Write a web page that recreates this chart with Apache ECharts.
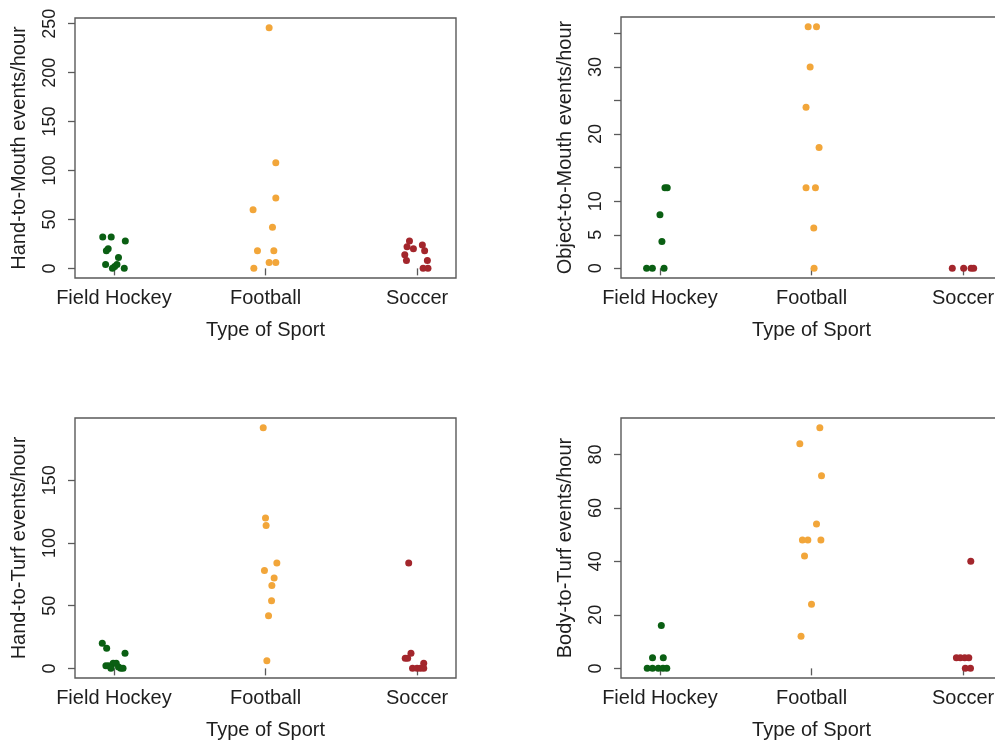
<!DOCTYPE html>
<html>
<head>
<meta charset="utf-8">
<script src="https://cdn.jsdelivr.net/npm/echarts@6/dist/echarts.min.js"></script>
<style>
  html, body { margin: 0; padding: 0; background: #ffffff; }
  #chart { width: 995px; height: 745px; }
</style>
</head>
<body>
<div id="chart"></div>
<script>
// Sports and the axis titles of the four strip charts
const sports = ['Field Hockey', 'Football', 'Soccer'];
const sportColors = ['#0a5f13', '#f2a63a', '#a3262c'];
const xTitle = 'Type of Sport';
const yTitles = [
  'Hand-to-Mouth events/hour',
  'Object-to-Mouth events/hour',
  'Hand-to-Turf events/hour',
  'Body-to-Turf events/hour'
];

// Observations as [jitter, events/hour]; jitter is the horizontal scatter around each sport
const handMouthHockey = [[-0.074, 32], [-0.018, 32], [0.075, 28], [-0.038, 20], [-0.05, 18], [0.03, 11],
  [-0.055, 4], [0.02, 4], [0.005, 2], [-0.01, 0], [0.068, 0]];
const handMouthFootball = [[0.024, 246], [0.068, 108], [0.068, 72], [-0.082, 60], [0.046, 42], [-0.053, 18],
  [0.055, 18], [0.024, 6], [0.068, 6], [-0.077, 0]];
const handMouthSoccer = [[-0.05, 28], [0.035, 24], [-0.066, 22], [-0.024, 20], [0.05, 18], [-0.081, 14],
  [0.068, 8], [-0.07, 8], [0.04, 0], [0.072, 0]];

const objectMouthHockey = [[-0.088, 0], [-0.05, 0], [0.027, 0], [0.033, 12], [0.048, 12], [0, 8], [0.013, 4]];
const objectMouthFootball = [[-0.022, 36], [0.033, 36], [-0.009, 30], [-0.036, 24], [0.05, 18], [-0.036, 12],
  [0.026, 12], [0.015, 6], [0.017, 0]];
const objectMouthSoccer = [[-0.071, 0], [0.004, 0], [0.053, 0], [0.07, 0]];

const handTurfHockey = [[-0.077, 20], [-0.048, 16], [0.073, 12], [-0.053, 2], [-0.035, 2], [-0.02, 1],
  [-0.005, 4], [0.015, 4], [0.03, 1], [0.045, 0], [0.06, 0], [-0.02, 0]];
const handTurfFootball = [[-0.015, 192], [0, 120], [0.004, 114], [0.075, 84], [-0.007, 78], [0.057, 72],
  [0.042, 66], [0.04, 54], [0.02, 42], [0.009, 6]];
const handTurfSoccer = [[-0.055, 84], [-0.04, 12], [-0.078, 8], [-0.062, 8], [0.044, 4], [-0.03, 0],
  [0, 0], [0.022, 0], [0.044, 0]];

const bodyTurfHockey = [[0.009, 16], [-0.049, 4], [0.022, 4], [-0.084, 0], [-0.049, 0], [-0.011, 0],
  [0.02, 0], [0.045, 0]];
const bodyTurfFootball = [[0.055, 90], [-0.077, 84], [0.066, 72], [0.033, 54], [-0.06, 48], [-0.024, 48],
  [0.062, 48], [-0.046, 42], [0, 24], [-0.069, 12]];
const bodyTurfSoccer = [[0.051, 40], [-0.044, 4], [-0.018, 4], [0.011, 4], [0.038, 4], [0.015, 0], [0.049, 0]];

// Tick positions and the tick labels printed on each y axis
const handMouthTicks = [0, 50, 100, 150, 200, 250];
const handMouthLabels = [0, 50, 100, 150, 200, 250];
const objectMouthTicks = [0, 5, 10, 15, 20, 25, 30, 35];
const objectMouthLabels = [0, 5, 10, 20, 30];
const handTurfTicks = [0, 50, 100, 150];
const handTurfLabels = [0, 50, 100, 150];
const bodyTurfTicks = [0, 20, 40, 60, 80];
const bodyTurfLabels = [0, 20, 40, 60, 80];

const panels = [
  { groups: [handMouthHockey, handMouthFootball, handMouthSoccer], ticks: handMouthTicks, labels: handMouthLabels },
  { groups: [objectMouthHockey, objectMouthFootball, objectMouthSoccer], ticks: objectMouthTicks, labels: objectMouthLabels },
  { groups: [handTurfHockey, handTurfFootball, handTurfSoccer], ticks: handTurfTicks, labels: handTurfLabels },
  { groups: [bodyTurfHockey, bodyTurfFootball, bodyTurfSoccer], ticks: bodyTurfTicks, labels: bodyTurfLabels }
];

// Plot regions (px) of the 2x2 layout; the right column runs past the page edge
const gridBoxes = [
  { left: 75, top: 18, width: 381, height: 260 },
  { left: 621, top: 17, width: 381, height: 261 },
  { left: 75, top: 418, width: 381, height: 260 },
  { left: 621, top: 418, width: 381, height: 260 }
];

const FONT = 'Liberation Sans, Arial, Helvetica, sans-serif';
const INK = '#1e1e1e';
const FRAME = '#5a5a5a';

const grids = [], xAxes = [], yAxes = [], series = [];

panels.forEach(function (panel, i) {
  grids.push(Object.assign({
    show: true, borderColor: FRAME, borderWidth: 1.4,
    backgroundColor: 'transparent', containLabel: false, outerBoundsMode: 'none'
  }, gridBoxes[i]));

  // y range padded by 4% of the data span on each side
  let lo = Infinity, hi = -Infinity;
  panel.groups.forEach(function (g) {
    g.forEach(function (p) { lo = Math.min(lo, p[1]); hi = Math.max(hi, p[1]); });
  });
  const pad = (hi - lo) * 0.04;

  xAxes.push({
    type: 'value', gridIndex: i, min: 0.743, max: 3.257,
    splitLine: { show: false },
    axisLine: { show: false },
    axisTick: { show: true, length: 7, customValues: [1, 2, 3], lineStyle: { color: FRAME, width: 1.3 } },
    axisLabel: {
      customValues: [1, 2, 3], margin: 10, fontSize: 20, color: INK, fontFamily: FONT,
      formatter: function (v) { return sports[Math.round(v) - 1]; }
    },
    name: xTitle, nameLocation: 'middle', nameGap: 42,
    nameTextStyle: { fontSize: 20, color: INK, fontFamily: FONT }
  });

  yAxes.push({
    type: 'value', gridIndex: i, min: lo - pad, max: hi + pad,
    splitLine: { show: false },
    axisLine: { show: false },
    axisTick: { show: true, length: 7, customValues: panel.ticks, lineStyle: { color: FRAME, width: 1.3 } },
    axisLabel: {
      customValues: panel.labels, rotate: 90, margin: 16, fontSize: 18, color: INK, fontFamily: FONT,
      formatter: function (v) { return String(Math.round(v)); }
    },
    name: yTitles[i], nameLocation: 'middle', nameRotate: 90, nameGap: 46,
    nameTextStyle: { fontSize: 20, color: INK, fontFamily: FONT }
  });

  panel.groups.forEach(function (g, k) {
    series.push({
      type: 'scatter', xAxisIndex: i, yAxisIndex: i,
      symbol: 'circle', symbolSize: 7,
      itemStyle: { color: sportColors[k], opacity: 1 },
      emphasis: { disabled: true },
      data: g.map(function (p) { return [k + 1 + p[0], p[1]]; })
    });
  });
});

const chart = echarts.init(document.getElementById('chart'), null, { renderer: 'canvas' });
chart.setOption({
  animation: false,
  backgroundColor: '#ffffff',
  grid: grids,
  xAxis: xAxes,
  yAxis: yAxes,
  series: series
});
</script>
</body>
</html>
